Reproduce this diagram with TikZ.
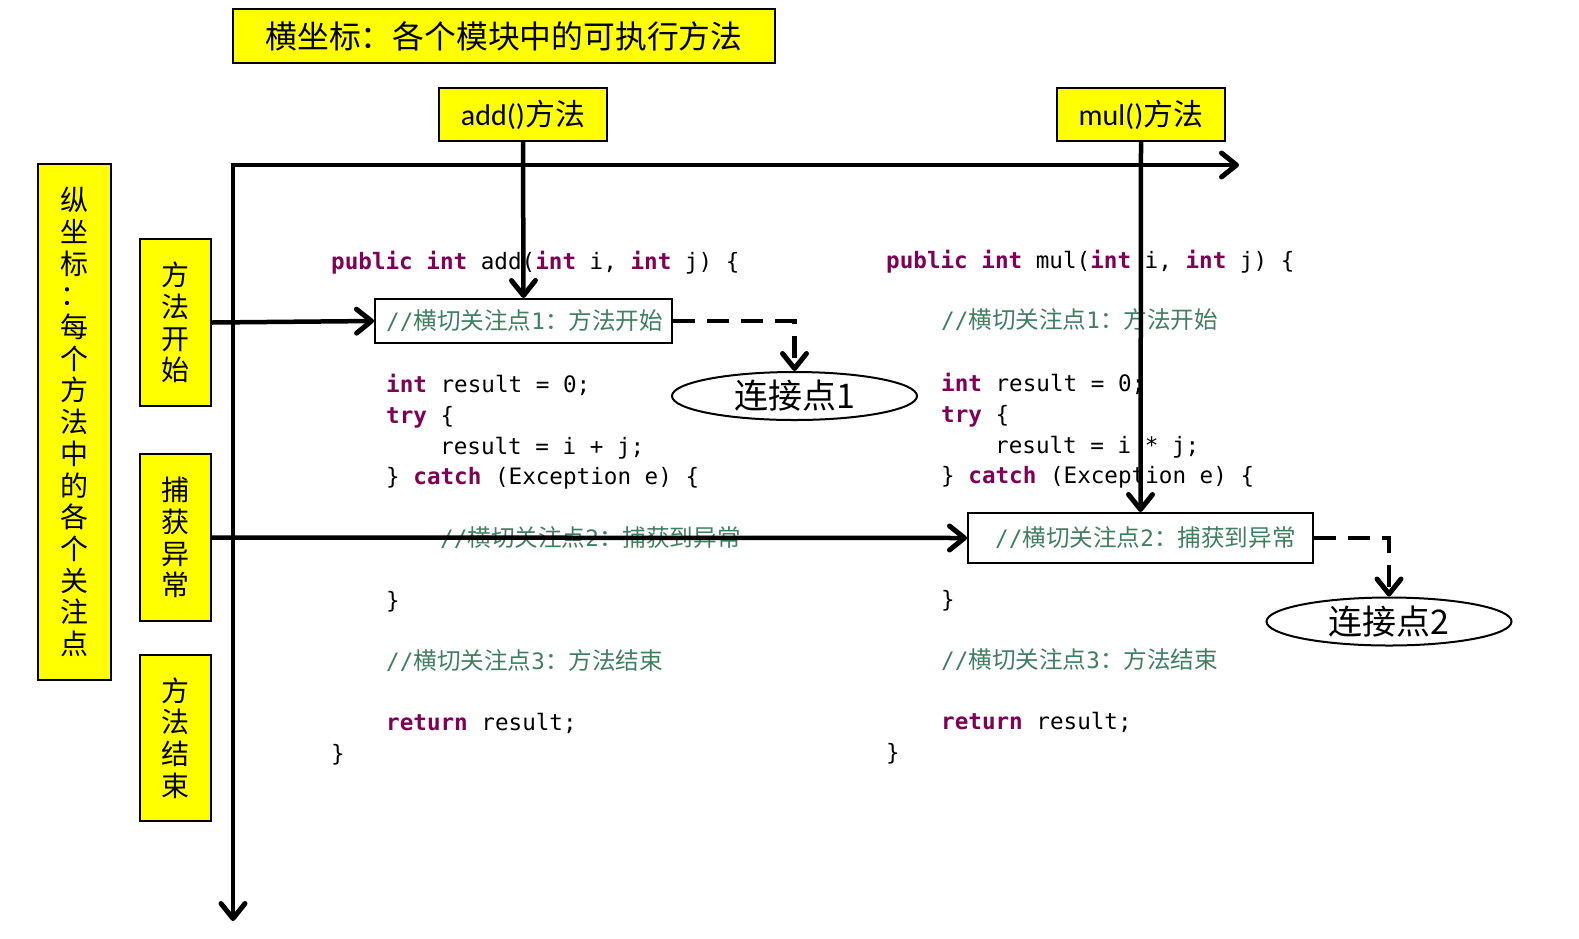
\documentclass[tikz,border=0pt]{standalone}
\usepackage{fontspec}
\setmainfont{Carlito}
\newfontfamily\cjk{Noto Sans CJK SC}
\newfontfamily\codefont{DejaVu Sans Mono}
\usetikzlibrary{arrows.meta,shapes.geometric}
\definecolor{kw}{HTML}{7F0055}
\definecolor{cmt}{HTML}{3F7F5F}
\definecolor{ylw}{HTML}{FFFF00}
\newcommand{\kwd}[1]{{\color{kw}\bfseries #1}}
\newcommand{\ccjk}{\cjk\fontsize{23.6}{26}\selectfont}
\newcommand{\cmtx}[2]{{\color{cmt}//{\ccjk 横切关注点}#1{\ccjk ：#2}}}
\begin{document}
\begin{tikzpicture}[x=1pt,y=-1pt,
  ybox/.style={draw=black,line width=2pt,fill=ylw,inner sep=0pt},
  cbox/.style={draw=black,line width=2pt,inner sep=0pt},
  vtext/.style={ybox,align=center,font=\cjk\fontsize{28}{31.7}\selectfont},
  code/.style={anchor=base west,inner sep=0pt,font=\codefont\fontsize{22.6}{26}\selectfont},
  tip/.style={-{Straight Barb[length=15pt,width=24pt,line width=5pt,round]}},
  axis/.style={line width=4.5pt,tip},
  arr/.style={line width=4.5pt,tip},
  dashline/.style={line width=4.5pt,dash pattern=on 22pt off 12pt,tip},
  jp/.style={ellipse,draw=black,line width=2pt,inner sep=0pt,minimum width=245pt,minimum height=48pt,font=\cjk\fontsize{34}{36}\selectfont}
]
\useasboundingbox (0,0) rectangle (1579,938);

% header boxes
\node[ybox,minimum width=542pt,minimum height=54pt,font=\cjk\fontsize{31.8}{36}\selectfont] (title) at (504,36) {横坐标：各个模块中的可执行方法};
\node[ybox,minimum width=168pt,minimum height=53pt,font=\fontsize{30}{36}\selectfont] (add) at (523,114.5) {add()\cjk 方法};
\node[ybox,minimum width=168pt,minimum height=53pt,font=\fontsize{30}{36}\selectfont] (mul) at (1141,114.5) {mul()\cjk 方法};

% vertical boxes
\node[vtext,minimum width=73pt,minimum height=516pt] (yl) at (74.5,422) {纵\\坐\\标\\：\\每\\个\\方\\法\\中\\的\\各\\个\\关\\注\\点};
\node[vtext,minimum width=71pt,minimum height=167pt] (s1) at (175.5,322.5) {方\\法\\开\\始};
\node[vtext,minimum width=71pt,minimum height=167pt] (s2) at (175.5,537.5) {捕\\获\\异\\常};
\node[vtext,minimum width=71pt,minimum height=166pt] (s3) at (175.5,738) {方\\法\\结\\束};

% left code
\node[code] (l1) at (331,269) {\kwd{public} \kwd{int} add(\kwd{int} i, \kwd{int} j) \{};
\node[code] (l2) at (386,329) {\cmtx{1}{方法开始}};
\node[code] (l3) at (386,392) {\kwd{int} result = 0;};
\node[code] (l4) at (386,423) {\kwd{try} \{};
\node[code] (l5) at (440,454) {result = i + j;};
\node[code] (l6) at (386,484) {\} \kwd{catch} (Exception e) \{};
\node[code] (l7) at (440,546) {\cmtx{2}{捕获到异常}};
\node[code] (l8) at (386,608) {\}};
\node[code] (l9) at (386,669) {\cmtx{3}{方法结束}};
\node[code] (l10) at (386,730) {\kwd{return} result;};
\node[code] (l11) at (331,761) {\}};

% right code
\node[code] (r1) at (886,268) {\kwd{public} \kwd{int} mul(\kwd{int} i, \kwd{int} j) \{};
\node[code] (r2) at (941,328) {\cmtx{1}{方法开始}};
\node[code] (r3) at (941,391) {\kwd{int} result = 0;};
\node[code] (r4) at (941,422) {\kwd{try} \{};
\node[code] (r5) at (995,453) {result = i * j;};
\node[code] (r6) at (941,483) {\} \kwd{catch} (Exception e) \{};
\node[code] (r7) at (995,546) {\cmtx{2}{捕获到异常}};
\node[code] (r8) at (941,607) {\}};
\node[code] (r9) at (941,668) {\cmtx{3}{方法结束}};
\node[code] (r10) at (941,729) {\kwd{return} result;};
\node[code] (r11) at (886,760) {\}};

% comment boxes
\node[cbox,minimum width=297pt,minimum height=44pt] (c1) at (523.5,321) {};
\node[cbox,minimum width=345pt,minimum height=50pt] (c2) at (1140.5,538) {};

% join points
\node[jp] (e1) at (794.5,396) {连接点1};
\node[jp] (e2) at (1389,621.5) {连接点2};

% axes
\coordinate (O) at (233,165);
\coordinate (xend) at (1239,165);
\coordinate (yend) at (233,921);
\draw[axis,line cap=rect] (O) -- (xend);
\draw[axis] (O) -- (yend);

% arrows
\draw[arr] (add.south) -- (c1.north);
\draw[arr] (mul.south) -- (c2.north);
\draw[arr] (s1.east) -- (c1.west);
\draw[arr] (s2.east) -- (c2.west);
\draw[dashline] (c1.east) -| (e1.north);
\draw[dashline] (c2.east) -| (e2.north);
\end{tikzpicture}
\end{document}
